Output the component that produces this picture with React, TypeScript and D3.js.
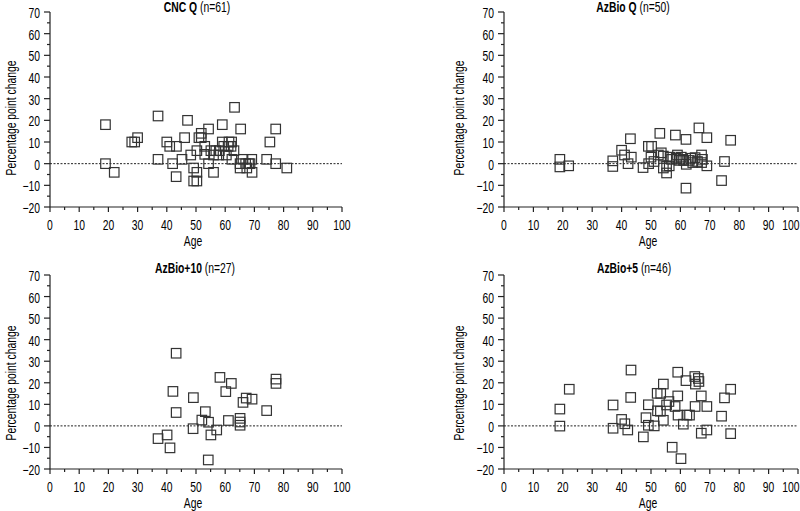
import React from "react";
import * as d3 from "d3";

// ---- Data ----
const cncQ: [number, number][] = [
  [19, 18], [19, 0], [22, -4], [28, 10], [29, 10], [30, 12], [37, 22], [37, 2],
  [40, 10], [41, 8], [43.3, 8], [42, 0], [43.2, -6], [45.2, 2], [46.1, 12], [47.1, 20],
  [48.2, 4], [49.2, -2], [49.2, -8], [50.3, -8], [50.3, -4], [50.3, 6], [51, 12], [51.8, 14],
  [51.8, 12], [53, 8], [53, 4.3], [54.3, 16], [54.3, 0], [55.1, 6], [56, 4], [56, -4],
  [56.8, 6], [57.8, 4], [59, 18], [59, 10], [59.5, 8], [60.4, 4], [61, 8], [61.3, 10],
  [62, 8], [62.2, 10], [62.3, 2], [63, 6], [63.2, 26], [65.3, 16], [65.1, 0], [65.1, -2],
  [66.1, 2], [67, 0], [67.4, -2], [68, 0], [69.1, 2], [69.2, -4], [68.5, 0], [74.2, 2],
  [75.3, 10], [77.3, 16], [77.3, 0], [81.1, -2], [58, 6],
];

const azbioQ: [number, number][] = [
  [19, 2], [19, -1.5], [22, -1], [37, 1.3], [37, -1.3], [40, 6.2], [41, 4], [43, 11.5],
  [43.3, 3], [42.2, 0], [47.3, -1.8], [49.1, 8], [50.2, 8], [49.2, 0], [50, 3], [51, 1],
  [52.5, 4], [53, 14], [53.5, 5], [54.2, 3.5], [54.2, -2], [55.3, -4.3], [55.3, -1.2], [56.2, -1],
  [57, 2], [58.3, 13.2], [59, 4], [59.6, 1.5], [60.3, 3], [61.1, 1.5], [61.9, 11.2], [61.9, -11.3],
  [62, -0.3], [63, 1.5], [63.5, 2.5], [65, 2.8], [65.8, 1], [66.3, 16.5], [67.2, 4], [67.2, 0.5],
  [67.5, 2], [69, 12], [69, -1], [74, -7.8], [75, 1], [77.1, 10.8], [56.5, 3], [58.6, 2.5],
  [64.2, 0.5], [60.8, 2],
];

const azbio10: [number, number][] = [
  [37, -5.9], [40.1, -4.2], [41.1, -10.2], [42.1, 16], [43.2, 33.7], [43.2, 6.2], [49, -1.3],
  [49.1, 13.1], [52, 2.7], [53.2, 6.6], [54.3, 1.7], [54.2, -15.8], [55.1, -4.2], [57.1, -1.9],
  [58.2, 22.5], [60.2, 15.9], [61.1, 2.5], [62.1, 19.7], [65.1, 3.5], [65.1, 0.3], [66.1, 10.9],
  [67.2, 12.9], [69.2, 12.4], [74.2, 7.1], [77.4, 21.7], [77.4, 19.7], [65.1, 1.8],
];

const azbio5: [number, number][] = [
  [19, 7.8], [19, -0.1], [22.2, 17], [37.1, 9.7], [37.1, -1.1], [40, 3], [41.1, 1],
  [43.2, 25.9], [43.1, 13.2], [42.1, -1.9], [47.4, -5.1], [48.3, 3.8], [49.1, 9.8], [49.1, 0.3],
  [51.1, 0], [52.1, 15.1], [53.3, 15.1], [52.2, 7], [53.2, 6.8], [54.2, 19.4], [54.2, 2.6],
  [55.3, 9.7], [56.1, 11.3], [57.2, -9.9], [58.2, 9], [59.1, 24.9], [59.1, 13.9], [59.2, 5],
  [60.2, -15.2], [61, 0.8], [61.9, 21], [62.2, 5], [63.1, 5], [64.9, 22.9], [65.1, 19.4],
  [65, 9], [66.1, 22], [67.1, 13.9], [67.1, -3.4], [69, 9], [69, -1.9], [74, 4.5],
  [75, 13], [77.1, 17], [77.1, -3.6], [66.3, 20.6],
];

const xTicks = [0, 10, 20, 30, 40, 50, 60, 70, 80, 90, 100];
const xMinor = [5, 15, 25, 35, 45, 55, 65, 75, 85, 95];
const yTicks = [-20, -10, 0, 10, 20, 30, 40, 50, 60, 70];
const yMinor = [-15, -5, 5, 15, 25, 35, 45, 55, 65];

const panels = [
  { bold: "CNC Q", rest: " (n=61)", data: cncQ, x0: 50, x1: 342, y0: 12, y1: 207, tx: 197, ty: 12, lx: 16, ly: 118 },
  { bold: "AzBio Q", rest: " (n=50)", data: azbioQ, x0: 504, x1: 798, y0: 12, y1: 207, tx: 633, ty: 12, lx: 464, ly: 118 },
  { bold: "AzBio+10", rest: " (n=27)", data: azbio10, x0: 50, x1: 342, y0: 275, y1: 469, tx: 195, ty: 273, lx: 16, ly: 383 },
  { bold: "AzBio+5", rest: " (n=46)", data: azbio5, x0: 504, x1: 798, y0: 275, y1: 469, tx: 634, ty: 273, lx: 464, ly: 383 },
];

const FONT = "'Liberation Sans', Arial, sans-serif";
const INK = "#000";
const SX = 0.74;
const FS = 14;

function T({
  x, y, anchor = "middle", rotate = 0, children,
}: { x: number; y: number; anchor?: string; rotate?: number; children: React.ReactNode }) {
  return (
    <text
      transform={`translate(${x},${y}) rotate(${rotate}) scale(${SX},1)`}
      textAnchor={anchor}
      fontSize={FS}
      fill={INK}
      fontFamily={FONT}
    >
      {children}
    </text>
  );
}

function Panel({ p }: { p: (typeof panels)[number] }) {
  const x = d3.scaleLinear().domain([0, 100]).range([p.x0, p.x1]);
  const y = d3.scaleLinear().domain([-20, 70]).range([p.y1, p.y0]);
  const s = 9.5;
  return (
    <g>
      <T x={p.tx} y={p.ty}>
        <tspan fontWeight="bold">{p.bold}</tspan>
        <tspan>{p.rest}</tspan>
      </T>
      {/* y axis */}
      <line x1={p.x0} x2={p.x0} y1={y(70)} y2={y(-20)} stroke="#222" strokeWidth={1.2} />
      {yTicks.map((t) => (
        <g key={"y" + t}>
          <line x1={p.x0 - 6} x2={p.x0} y1={y(t)} y2={y(t)} stroke="#222" strokeWidth={1.2} />
          <T x={p.x0 - 10} y={y(t) + 6} anchor="end">
            {t < 0 ? "\u2212" + Math.abs(t) : String(t)}
          </T>
        </g>
      ))}
      {yMinor.map((t) => (
        <line key={"ym" + t} x1={p.x0 - 3} x2={p.x0} y1={y(t)} y2={y(t)} stroke="#222" strokeWidth={1.2} />
      ))}
      {/* x axis */}
      <line x1={p.x0} x2={x(100)} y1={p.y1} y2={p.y1} stroke="#222" strokeWidth={1.2} />
      {xTicks.map((t) => {
        const tx = Math.min(x(t), 799 - 8);
        return (
          <g key={"x" + t}>
            <line x1={x(t)} x2={x(t)} y1={p.y1} y2={p.y1 + 5} stroke="#222" strokeWidth={1.2} />
            <T x={tx} y={p.y1 + 22.5}>{String(t)}</T>
          </g>
        );
      })}
      {xMinor.map((t) => (
        <line key={"xm" + t} x1={x(t)} x2={x(t)} y1={p.y1} y2={p.y1 + 3} stroke="#222" strokeWidth={1.2} />
      ))}
      <T x={(p.x0 + x(100)) / 2 - 3} y={p.y1 + 39}>Age</T>
      <T x={p.lx} y={p.ly} rotate={-90}>Percentage point change</T>
      {/* zero reference */}
      <line x1={p.x0} x2={x(100)} y1={y(0)} y2={y(0)} stroke="#222" strokeWidth={1} strokeDasharray="2,1.5" />
      {p.data.map(([a, v], i) => (
        <rect
          key={i}
          x={x(a) - s / 2}
          y={y(v) - s / 2}
          width={s}
          height={s}
          fill="none"
          stroke="#333"
          strokeWidth={1.2}
        />
      ))}
    </g>
  );
}

export default function App() {
  return (
    <svg
      width={800}
      height={511}
      style={{ position: "absolute", left: 0, top: 0, background: "#fff" }}
    >
      <rect width={800} height={511} fill="#fff" />
      {panels.map((p, i) => (
        <Panel key={i} p={p} />
      ))}
    </svg>
  );
}
